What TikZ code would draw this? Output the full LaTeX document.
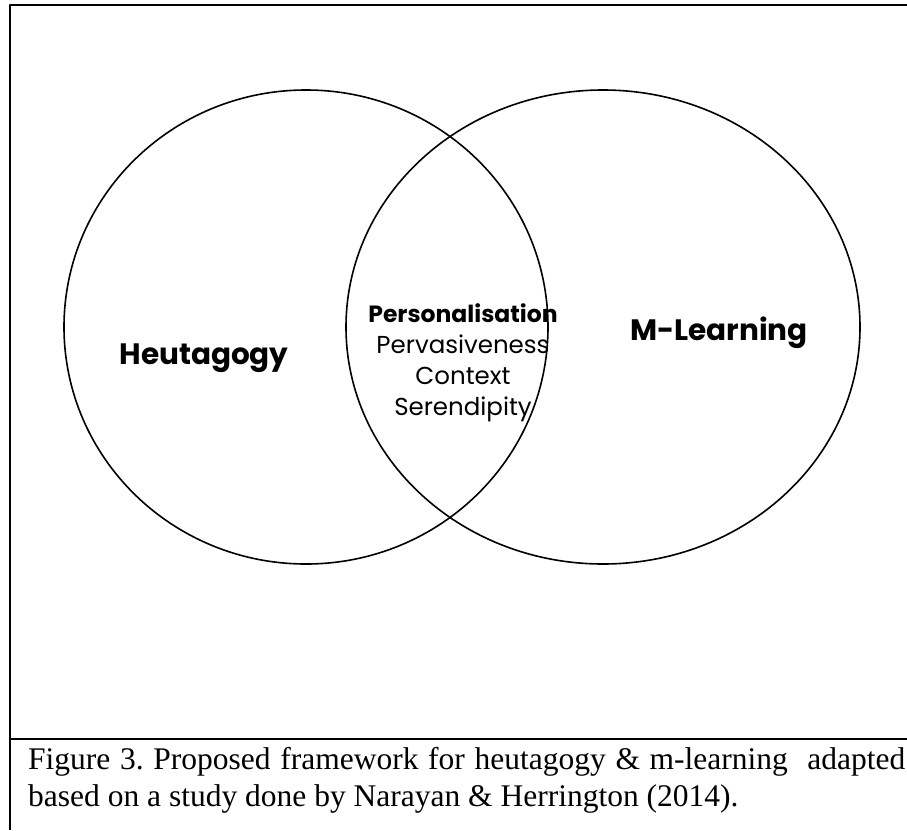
\documentclass[tikz,border=0pt]{standalone}
\usepackage{fontspec}
\setmainfont{Liberation Serif}
\setsansfont{Poppins}
\usetikzlibrary{calc}
\definecolor{framegray}{RGB}{0,0,0}
\frenchspacing

\begin{document}
\begin{tikzpicture}[
    x=1pt, y=-1pt,
    line cap=round,
    line join=round,
    ring/.style={line width=1.6pt},
    frame/.style={framegray, line width=2.6pt, line cap=butt},
    setlbl/.style={font=\sffamily\bfseries\fontsize{29.5}{34}\selectfont},
    lenslbl/.style={font=\sffamily\fontsize{24.5}{31}\selectfont, align=center},
]

% ── Page area ───────────────────────────────────────────────────────────────
\useasboundingbox (0,0) rectangle (907,830);

% ── Frame ───────────────────────────────────────────────────────────────────
\draw[frame] (10,830) -- (10,5) -- (907,5);
\draw[frame] (10,739) -- (907,739);

% ── Two sets ────────────────────────────────────────────────────────────────
\coordinate (L) at (306,327);
\coordinate (R) at (603,327);
\draw[ring] (L) ellipse[x radius=242, y radius=237];
\draw[ring] (R) ellipse[x radius=257, y radius=237];

% ── Set labels ──────────────────────────────────────────────────────────────
\node[setlbl] (heut) at (204,358) {Heutagogy};
\node[setlbl] (mlearn) at (719,333) {M-Learning};

% ── Overlap ─────────────────────────────────────────────────────────────────
\node[lenslbl] (shared) at (463,363)
    {{\bfseries\fontsize{23.5}{31}\selectfont Personalisation}\\
     Pervasiveness\\Context\\Serendipity};

% ── Caption ─────────────────────────────────────────────────────────────────
\node[anchor=north west, text width=877pt, align=justify, inner sep=0pt,
      font=\fontsize{31.5}{37}\selectfont] (caption) at (28,747)
    {Figure 3. Proposed framework for heutagogy \& m-learning~ adapted\linebreak
     based on a study done by Narayan \& Herrington (2014).};

\end{tikzpicture}
\end{document}
